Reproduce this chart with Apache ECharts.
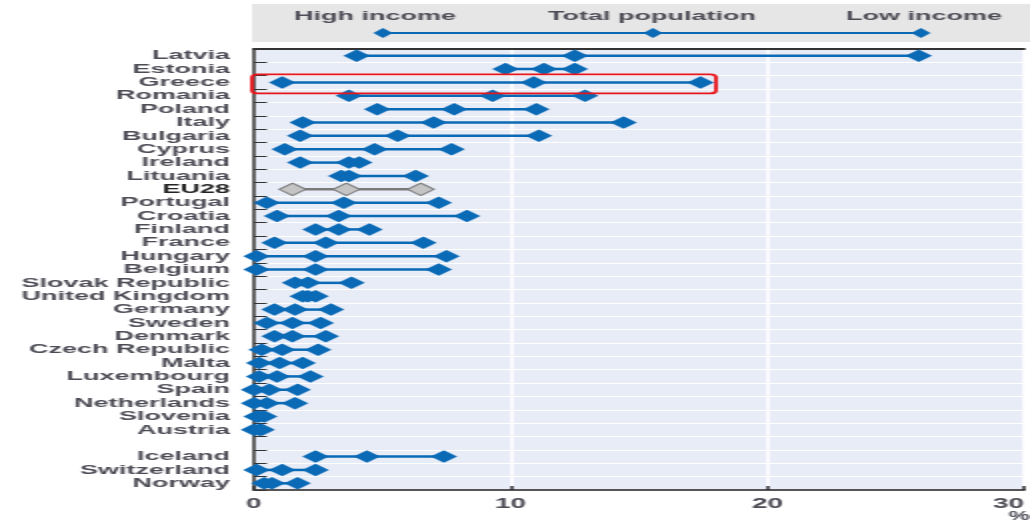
<!DOCTYPE html>
<html>
<head>
<meta charset="utf-8">
<script src="https://cdn.jsdelivr.net/npm/echarts@6/dist/echarts.min.js"></script>
<style>
  html, body { margin: 0; padding: 0; background: #ffffff; overflow: hidden; width: 1030px; height: 525px; }
  #chart { width: 515px; height: 525px; transform: scaleX(2); transform-origin: 0 0; }
</style>
</head>
<body>
<div id="chart"></div>
<script>
// ---- data ----
const categories = ['Latvia','Estonia','Greece','Romania','Poland','Italy','Bulgaria','Cyprus','Ireland','Lituania','EU28','Portugal','Croatia','Finland','France','Hungary','Belgium','Slovak Republic','United Kingdom','Germany','Sweden','Denmark','Czech Republic','Malta','Luxembourg','Spain','Netherlands','Slovenia','Austria','','Iceland','Switzerland','Norway'];
const highIncome = [4.0, 9.8, 1.1, 3.7, 4.8, 1.9, 1.8, 1.2, 1.8, 3.4, 1.5, 0.5, 0.9, 2.4, 0.8, 0.1, 0.1, 1.6, 1.9, 0.8, 0.5, 0.8, 0.3, 0.2, 0.2, 0.0, 0.0, 0.1, 0.0, null, 2.4, 0.1, 0.4];
const totalPopulation = [12.5, 11.3, 10.9, 9.3, 7.8, 7.0, 5.6, 4.7, 3.7, 3.7, 3.6, 3.5, 3.3, 3.3, 2.8, 2.4, 2.4, 2.1, 2.1, 1.6, 1.5, 1.5, 1.1, 1.0, 0.9, 0.6, 0.5, 0.2, 0.2, null, 4.4, 1.1, 0.7];
const lowIncome = [25.9, 12.5, 17.4, 12.9, 11.0, 14.4, 11.1, 7.7, 4.1, 6.3, 6.5, 7.2, 8.3, 4.5, 6.6, 7.5, 7.2, 3.8, 2.4, 3.0, 2.6, 2.8, 2.5, 1.9, 2.2, 1.7, 1.6, 0.4, 0.3, null, 7.4, 2.4, 1.7];
const xTicks = [0, 10, 20, 30];
const legendNames = ['High income', 'Total population', 'Low income'];
const highlighted = 'Greece';
const highlightMax = 18.0;

// ---- styles ----
const BLUE = '#0a6ab6';
const GREY_FILL = '#c4c4c4';
const GREY_LINE = '#7a7a7a';
const LABEL = '#4c4c56';
const FONT = '"Liberation Sans", Arial, sans-serif';
const DIAMOND = [13.3, 12.5];

const isRef = name => name === 'EU28';

function scatterData(arr) {
  return arr.map((v, i) => {
    if (v == null) return null;
    if (isRef(categories[i])) {
      return { value: [v, i], itemStyle: { color: GREY_FILL, borderColor: GREY_LINE, borderWidth: 1 } };
    }
    return [v, i];
  }).filter(d => d !== null);
}

const rangeData = categories.map((c, i) => highIncome[i] == null ? null : [highIncome[i], lowIncome[i], i])
  .filter(d => d !== null);

const chart = echarts.init(document.getElementById('chart'));

const yData = categories.map(c => isRef(c)
  ? { value: c, textStyle: { color: '#222', fontWeight: 900 } }
  : c);

const option = {
  animation: false,
  textStyle: { fontFamily: FONT },
  grid: { left: 127, top: 49, width: 388, height: 441, show: true, backgroundColor: '#e8ecf7', borderWidth: 0, containLabel: false },
  xAxis: [{
    type: 'value', min: xTicks[0], max: xTicks[xTicks.length - 1], interval: 10,
    axisLine: { show: true, lineStyle: { color: '#555', width: 2 } },
    axisTick: { show: true, inside: true, length: 4, lineStyle: { color: '#333', width: 1.5 } },
    axisLabel: { color: LABEL, fontWeight: 'bold', fontSize: 14, margin: 7, fontFamily: FONT, alignMaxLabel: 'right' },
    splitLine: { show: true, lineStyle: { color: '#ffffff', width: 1.5 } }
  }, {
    type: 'value', position: 'top', min: 0, max: 30, interval: 10,
    axisLine: { show: true, lineStyle: { color: '#333', width: 2 } },
    axisTick: { show: false }, axisLabel: { show: false }, splitLine: { show: false }
  }],
  yAxis: {
    type: 'category', data: yData, inverse: true, boundaryGap: true,
    axisLine: { show: true, lineStyle: { color: '#333', width: 1.5 } },
    axisTick: { show: true, inside: true, length: 6.5, interval: 0, lineStyle: { color: '#333', width: 1 } },
    axisLabel: { color: LABEL, fontWeight: 'bold', fontSize: 13.5, margin: 12, interval: 0, fontFamily: FONT },
    splitLine: { show: true, interval: 0, lineStyle: { color: '#ffffff', width: 1.2 } }
  },
  series: [{
    type: 'custom', name: 'range', z: 1, xAxisIndex: 0,
    data: rangeData,
    encode: { x: [0, 1], y: 2 },
    renderItem: function (params, api) {
      const idx = api.value(2);
      const p1 = api.coord([api.value(0), idx]);
      const p2 = api.coord([api.value(1), idx]);
      return {
        type: 'line',
        shape: { x1: p1[0], y1: p1[1], x2: p2[0], y2: p2[1] },
        style: { stroke: isRef(categories[idx]) ? GREY_LINE : BLUE, lineWidth: 2.5 }
      };
    }
  }, {
    type: 'scatter', name: legendNames[0], z: 3, symbol: 'diamond', symbolSize: DIAMOND,
    itemStyle: { color: BLUE, opacity: 1 }, data: scatterData(highIncome)
  }, {
    type: 'scatter', name: legendNames[1], z: 3, symbol: 'diamond', symbolSize: DIAMOND,
    itemStyle: { color: BLUE, opacity: 1 }, data: scatterData(totalPopulation)
  }, {
    type: 'scatter', name: legendNames[2], z: 3, symbol: 'diamond', symbolSize: DIAMOND,
    itemStyle: { color: BLUE, opacity: 1 }, data: scatterData(lowIncome)
  }]
};

chart.setOption(option);

// legend box and annotation
const gi = categories.indexOf(highlighted);
const pA = chart.convertToPixel({ xAxisIndex: 0, yAxisIndex: 0 }, [0, gi]);
const pB = chart.convertToPixel({ xAxisIndex: 0, yAxisIndex: 0 }, [highlightMax, gi]);

const legendX = [187.5, 326, 462];
const legendDX = [191.5, 326.5, 460.5];
const legendGraphics = [
  { type: 'rect', shape: { x: 126, y: 4, width: 400, height: 38 }, style: { fill: '#e6e6e6' }, z: 0 },
  { type: 'line', shape: { x1: legendDX[0], y1: 33, x2: legendDX[2], y2: 33 }, style: { stroke: BLUE, lineWidth: 2 }, z: 1 }
];
legendNames.forEach((n, k) => {
  legendGraphics.push({ type: 'text', x: legendX[k], y: 16, z: 2,
    style: { text: n, fill: LABEL, font: 'bold 13.5px ' + FONT, textAlign: 'center', textVerticalAlign: 'middle' } });
  legendGraphics.push({ type: 'polygon', z: 2,
    shape: { points: [[legendDX[k] - 4.8, 33], [legendDX[k], 28], [legendDX[k] + 4.8, 33], [legendDX[k], 38]] },
    style: { fill: BLUE } });
});
legendGraphics.push({ type: 'text', x: 515, y: 517, z: 2,
  style: { text: '%', fill: LABEL, font: 'bold 12px ' + FONT, textAlign: 'right', textVerticalAlign: 'middle' } });
legendGraphics.push({ type: 'rect', z: 10,
  shape: { x: pA[0] - 1, y: pA[1] - 8, width: pB[0] - pA[0] + 1, height: 19, r: 3 },
  style: { fill: 'none', stroke: '#e8151b', lineWidth: 1.8 } });

chart.setOption({ graphic: legendGraphics });
</script>
</body>
</html>
